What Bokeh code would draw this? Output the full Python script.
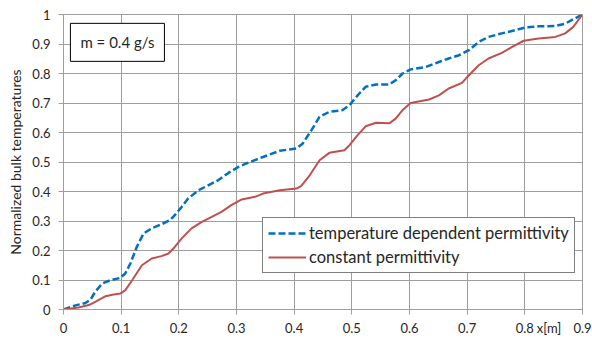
from bokeh.plotting import figure
from bokeh.models import (Range1d, FixedTicker, Label, Legend, LegendItem, LinearAxis)
from bokeh.embed import file_html
from bokeh.resources import INLINE

# Axial position along the applicator [m], temperature dependent permittivity
x_temp_dep = [0, 0.021, 0.038, 0.047, 0.055, 0.067, 0.081, 0.098, 0.107, 0.116,
              0.127, 0.139, 0.153, 0.170, 0.185, 0.193, 0.205, 0.216, 0.234, 0.251,
              0.268, 0.286, 0.303, 0.317, 0.346, 0.375, 0.404, 0.415, 0.430, 0.444,
              0.461, 0.484, 0.496, 0.510, 0.524, 0.542, 0.565, 0.576, 0.588, 0.602,
              0.628, 0.651, 0.668, 0.686, 0.703, 0.720, 0.737, 0.760, 0.784, 0.801,
              0.824, 0.853, 0.870, 0.884, 0.9]
# Normalized bulk temperature, temperature dependent permittivity
t_temp_dep = [0, 0.014, 0.022, 0.034, 0.060, 0.088, 0.099, 0.107, 0.122, 0.156,
              0.212, 0.258, 0.275, 0.289, 0.303, 0.320, 0.348, 0.376, 0.404, 0.421,
              0.438, 0.463, 0.483, 0.495, 0.517, 0.538, 0.546, 0.563, 0.608, 0.653,
              0.670, 0.676, 0.693, 0.726, 0.755, 0.763, 0.763, 0.777, 0.800, 0.814,
              0.822, 0.839, 0.851, 0.862, 0.879, 0.907, 0.924, 0.936, 0.947, 0.956,
              0.960, 0.961, 0.969, 0.984, 1.0]

# Axial position [m], constant permittivity
x_const = [0, 0.026, 0.044, 0.055, 0.073, 0.087, 0.098, 0.107, 0.119, 0.136,
           0.153, 0.170, 0.182, 0.193, 0.205, 0.222, 0.240, 0.257, 0.274, 0.291,
           0.309, 0.332, 0.346, 0.375, 0.404, 0.412, 0.427, 0.444, 0.461, 0.487,
           0.496, 0.510, 0.524, 0.542, 0.565, 0.576, 0.588, 0.602, 0.634, 0.651,
           0.668, 0.691, 0.703, 0.720, 0.737, 0.760, 0.778, 0.798, 0.824, 0.853,
           0.870, 0.884, 0.9]
# Normalized bulk temperature, constant permittivity
t_const = [0, 0.007, 0.015, 0.026, 0.045, 0.051, 0.054, 0.065, 0.099, 0.150,
           0.173, 0.181, 0.190, 0.212, 0.241, 0.275, 0.297, 0.314, 0.331, 0.354,
           0.373, 0.382, 0.393, 0.404, 0.410, 0.418, 0.455, 0.506, 0.531, 0.540,
           0.557, 0.591, 0.621, 0.633, 0.631, 0.647, 0.676, 0.700, 0.712, 0.726,
           0.749, 0.768, 0.794, 0.828, 0.851, 0.870, 0.890, 0.911, 0.919, 0.924,
           0.936, 0.958, 1.0]

x_ticks = [0, 0.1, 0.2, 0.3, 0.4, 0.5, 0.6, 0.7, 0.8, 0.9]
x_tick_labels = ["0", "0.1", "0.2", "0.3", "0.4", "0.5", "0.6", "0.7", "0.8", "0.9"]
y_ticks = [0, 0.1, 0.2, 0.3, 0.4, 0.5, 0.6, 0.7, 0.8, 0.9, 1.0]
y_tick_labels = ["0", "0.1", "0.2", "0.3", "0.4", "0.5", "0.6", "0.7", "0.8", "0.9", "1"]
x_caption = "x[m]"
x_caption_pos = 0.842

FONT = "Lato"
GRID = "#9e9e9e"
TXT = "#262626"

p = figure(width=592, height=338, output_backend="svg", toolbar_location=None,
           x_range=Range1d(0, 0.9), y_range=Range1d(0, 1),
           min_border_left=63, min_border_right=10, min_border_top=14,
           min_border_bottom=29)
p.background_fill_color = "white"
p.border_fill_color = "white"
p.outline_line_color = GRID

# y axis
ya = p.yaxis[0]
ya.ticker = FixedTicker(ticks=y_ticks)
ya.major_label_overrides = {t: l for t, l in zip(y_ticks, y_tick_labels)}
ya.minor_tick_line_color = None
ya.major_tick_out = 5
ya.major_tick_in = 0
ya.axis_line_color = GRID
ya.major_tick_line_color = GRID
ya.major_label_text_font = FONT
ya.major_label_text_font_size = "13px"
ya.major_label_text_color = TXT
ya.major_label_standoff = 8
ya.axis_label = "Normalized bulk temperatures"
ya.axis_label_text_font = FONT
ya.axis_label_text_font_size = "14px"
ya.axis_label_text_font_style = "normal"
ya.axis_label_text_color = TXT
ya.axis_label_standoff = 5

# x axis: line and tick marks only
xa = p.xaxis[0]
xa.ticker = FixedTicker(ticks=x_ticks)
xa.major_label_overrides = {t: "" for t in x_ticks}
xa.major_label_text_font_size = "0px"
xa.major_label_standoff = 0
xa.minor_tick_line_color = None
xa.major_tick_out = 5
xa.major_tick_in = 0
xa.axis_line_color = GRID
xa.major_tick_line_color = GRID

# x tick labels together with the axis caption
label_ticks = x_ticks + [x_caption_pos]
label_texts = x_tick_labels + [x_caption]
xl = LinearAxis(ticker=FixedTicker(ticks=label_ticks),
                major_label_overrides={t: l for t, l in zip(label_ticks, label_texts)},
                axis_line_color=None, major_tick_line_color=None,
                minor_tick_line_color=None, major_tick_out=0, major_tick_in=0,
                major_label_standoff=5, major_label_text_font=FONT,
                major_label_text_font_size="13px", major_label_text_color=TXT)
p.add_layout(xl, "below")

p.xgrid.ticker = FixedTicker(ticks=x_ticks)
p.ygrid.ticker = FixedTicker(ticks=y_ticks)
p.grid.grid_line_color = GRID
p.grid.grid_line_width = 1

r_dep = p.line(x_temp_dep, t_temp_dep, line_color="#0070C0", line_width=2.5,
               line_dash="7 3", line_join="round")
r_const = p.line(x_const, t_const, line_color="#C0504D", line_width=2,
                 line_join="round")

legend = Legend(items=[
    LegendItem(label="temperature dependent permittivity", renderers=[r_dep]),
    LegendItem(label="constant permittivity", renderers=[r_const]),
], location=(199, 36), margin=0, padding=5, spacing=4,
    glyph_width=38, glyph_height=20, label_height=20, label_standoff=3,
    label_text_font=FONT, label_text_font_size="16.5px", label_text_color=TXT,
    border_line_color="black", border_line_width=1,
    background_fill_color="white", background_fill_alpha=1)
p.add_layout(legend, "center")

p.add_layout(Label(x=0.012, y=0.970, text="m = 0.4 g/s",
                   text_font=FONT, text_font_size="15px", text_color=TXT,
                   text_align="left", text_baseline="top",
                   padding=10, border_line_color="black", border_line_width=1,
                   background_fill_color="white"))

open("out.html", "w").write(file_html(p, INLINE))
